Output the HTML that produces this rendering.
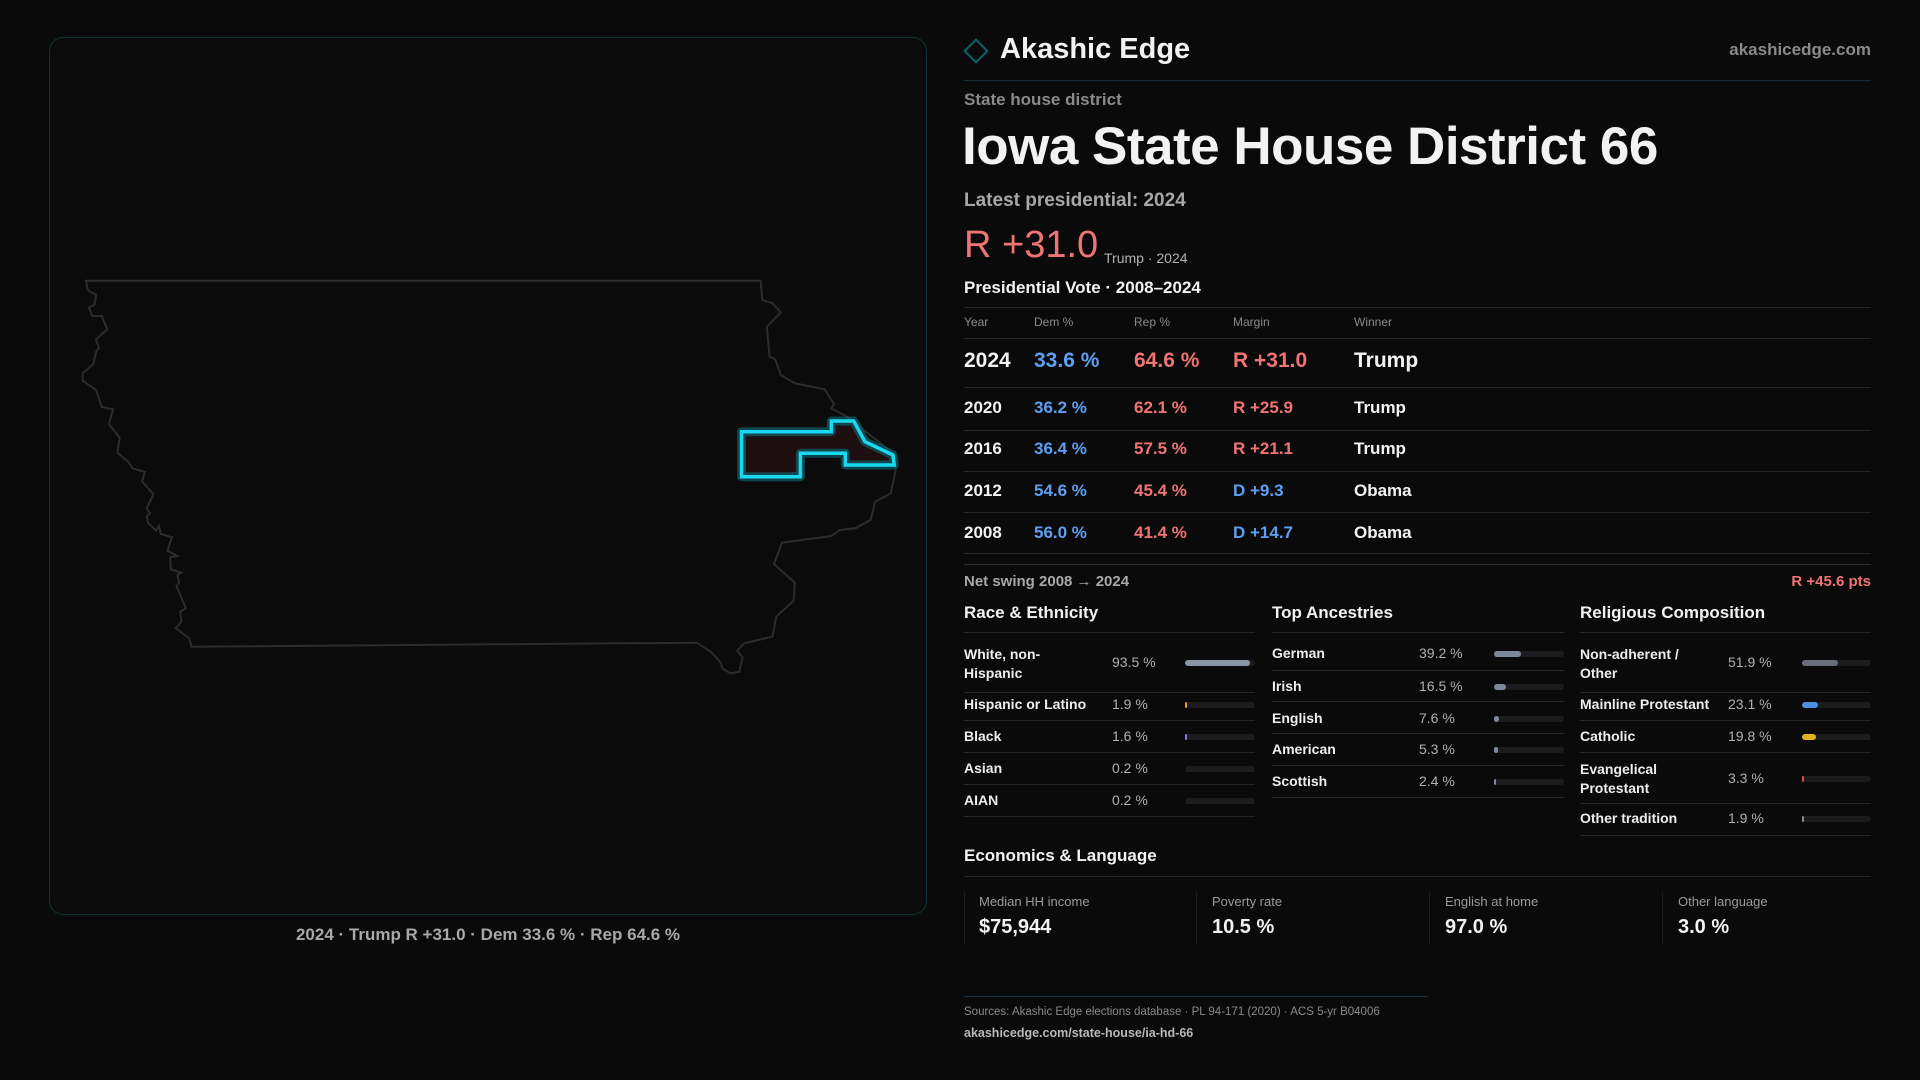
<!DOCTYPE html>
<html><head><meta charset="utf-8"><style>
*{margin:0;padding:0;box-sizing:border-box}
body{width:1920px;height:1080px;background:#0a0a0b;font-family:"Liberation Sans",sans-serif;color:#f2f2f2;position:relative;overflow:hidden}
.a{position:absolute;white-space:nowrap}
.g{color:#9a9a9a}
.b{color:#5e9ff2}.r{color:#f07474}
.ln{position:absolute;height:1px;background:#262628}
.bar{position:absolute;height:6px;border-radius:3px;background:#1c1c1f}
.bar i{position:absolute;left:0;top:0;height:6px;border-radius:3px}
.lab{font-size:14px;font-weight:bold;color:#eee}
.val{font-size:14px;color:#b0b0b0}
</style></head><body>
<div class="a" style="left:49px;top:37px;width:878px;height:878px;border:1px solid #123338;border-radius:14px;background:#0b0b0c"></div>
<svg class="a" style="left:0;top:0" width="960" height="1080">
<polygon fill="none" stroke="#2c2c2e" stroke-width="2" points="86,280.7 760.6,280.7 762.3,300 772.4,303.3 780.8,312.3 766.8,326.7 769.6,356.7 775.2,359.3 780.8,375 794.8,383.3 824.6,389.3 834.1,404 831.3,408.3 848.1,417.3 893,453.3 895.8,470 890.8,493.3 875.1,501.7 870.6,520 855.4,528.3 839.7,530 831.3,536 781.9,542.7 774,564 794.8,582.7 793.7,600.7 776.3,616.7 772.4,636.7 744.3,643.3 737,650.7 742.6,657.3 739.3,671.7 730.3,673.3 722.4,668.3 720.2,661.7 710.6,651.7 696.6,642.7 191.5,646.7 189.3,638.3 175.8,628.3 181.4,621.7 180.3,611.7 185.9,608.3 176.4,586 179.2,582.7 177.5,575 181.4,572.7 170.8,569.3 170.2,557.3 177.5,556 167.4,550.7 171.9,537.3 160.7,534 159,526 156.2,530.7 148.3,523.3 146.6,516.7 150,513.3 146.6,508.3 153.4,494.3 142.1,481.3 144.9,472 132.6,468.3 128.7,462.3 117.4,452.7 119.7,437.7 109,424.3 113,409.3 101.7,407 96.1,390 82.7,380.7 82.7,373.3 93.3,364 96.1,351.7 98.9,348.3 96.1,339.3 107.3,329.3 101.7,316 92.2,316 88.8,307.3 94.4,305 96.1,295 87.7,290"/>
<polygon fill="#1e0f10" stroke="#0e6a78" stroke-width="9" stroke-opacity="0.6" stroke-linejoin="round" points="741.5,431.7 831.3,431.7 831.3,421 853.7,421 865,441.7 893,455 894.2,465 845.3,465 845.3,453.3 800.4,453.3 800.4,476.7 741.5,476.7"/>
<polygon fill="none" stroke="#1ad8f0" stroke-width="3.5" points="741.5,431.7 831.3,431.7 831.3,421 853.7,421 865,441.7 893,455 894.2,465 845.3,465 845.3,453.3 800.4,453.3 800.4,476.7 741.5,476.7"/>
</svg>
<div class="a" style="left:0;width:976px;text-align:center;top:925px;font-size:17px;font-weight:bold;color:#a8a8a8">2024 · Trump R +31.0 · Dem 33.6 % · Rep 64.6 %</div>

<div class="a" style="left:967px;top:42px;width:18px;height:18px;border:2px solid #0f5f6a;transform:rotate(45deg)"></div>
<div class="a" style="left:1000px;top:33px;font-size:29px;font-weight:bold">Akashic Edge</div>
<div class="a g" style="right:49px;top:40px;font-size:17px;font-weight:bold;color:#8a8a8a">akashicedge.com</div>
<div class="ln" style="left:964px;width:907px;top:80px;background:#173036"></div>
<div class="a g" style="left:964px;top:90px;font-size:17px;font-weight:bold;color:#8a8a8a">State house district</div>
<div class="a" style="left:962px;top:116px;font-size:53px;font-weight:bold;letter-spacing:-0.5px">Iowa State House District 66</div>
<div class="a" style="left:964px;top:190px;font-size:19px;font-weight:bold;color:#a8a8a8">Latest presidential: 2024</div>
<div class="a r" style="left:964px;top:224px;font-size:38px">R +31.0</div>
<div class="a" style="left:1104px;top:250px;font-size:14px;color:#b0b0b0">Trump · 2024</div>
<div class="a" style="left:964px;top:278px;font-size:17px;font-weight:bold">Presidential Vote · 2008–2024</div>
<div class="ln" style="left:964px;width:907px;top:307px"></div>
<div class="a" style="left:964px;top:315px;font-size:12px;color:#8a8a8a">Year</div>
<div class="a" style="left:1034px;top:315px;font-size:12px;color:#8a8a8a">Dem %</div>
<div class="a" style="left:1134px;top:315px;font-size:12px;color:#8a8a8a">Rep %</div>
<div class="a" style="left:1233px;top:315px;font-size:12px;color:#8a8a8a">Margin</div>
<div class="a" style="left:1354px;top:315px;font-size:12px;color:#8a8a8a">Winner</div>
<div class="ln" style="left:964px;width:907px;top:338px"></div>
<div class="a" style="left:964px;top:349px;font-size:21px;font-weight:bold">2024</div>
<div class="a b" style="left:1034px;top:349px;font-size:21px;font-weight:bold">33.6 %</div>
<div class="a r" style="left:1134px;top:349px;font-size:21px;font-weight:bold">64.6 %</div>
<div class="a r" style="left:1233px;top:349px;font-size:21px;font-weight:bold">R +31.0</div>
<div class="a" style="left:1354px;top:349px;font-size:21px;font-weight:bold">Trump</div>
<div class="ln" style="left:964px;width:907px;top:387px"></div>
<div style="position:absolute;left:964px;top:398px;font-size:17px;font-weight:bold;line-height:20px">
<div class="a" style="left:0;top:0">2020</div><div class="a b" style="left:70px;top:0">36.2 %</div><div class="a r" style="left:170px;top:0">62.1 %</div><div class="a r" style="left:269px;top:0">R +25.9</div><div class="a" style="left:390px;top:0">Trump</div>
<div class="a" style="left:0;top:41px">2016</div><div class="a b" style="left:70px;top:41px">36.4 %</div><div class="a r" style="left:170px;top:41px">57.5 %</div><div class="a r" style="left:269px;top:41px">R +21.1</div><div class="a" style="left:390px;top:41px">Trump</div>
<div class="a" style="left:0;top:83px">2012</div><div class="a b" style="left:70px;top:83px">54.6 %</div><div class="a r" style="left:170px;top:83px">45.4 %</div><div class="a b" style="left:269px;top:83px">D +9.3</div><div class="a" style="left:390px;top:83px">Obama</div>
<div class="a" style="left:0;top:125px">2008</div><div class="a b" style="left:70px;top:125px">56.0 %</div><div class="a r" style="left:170px;top:125px">41.4 %</div><div class="a b" style="left:269px;top:125px">D +14.7</div><div class="a" style="left:390px;top:125px">Obama</div>
</div>
<div class="ln" style="left:964px;width:907px;top:430px"></div>
<div class="ln" style="left:964px;width:907px;top:471px"></div>
<div class="ln" style="left:964px;width:907px;top:512px"></div>
<div class="ln" style="left:964px;width:907px;top:553px"></div>
<div class="ln" style="left:964px;width:907px;top:564px;background:#303032"></div>
<div class="a" style="left:964px;top:573px;font-size:15px;font-weight:bold;color:#a8a8a8">Net swing 2008 → 2024</div>
<div class="a r" style="right:49px;top:573px;font-size:15px;font-weight:bold">R +45.6 pts</div>

<div class="a" style="left:964px;top:603px;font-size:17px;font-weight:bold">Race &amp; Ethnicity</div>
<div class="a" style="left:1272px;top:603px;font-size:17px;font-weight:bold">Top Ancestries</div>
<div class="a" style="left:1580px;top:603px;font-size:17px;font-weight:bold">Religious Composition</div>
<div class="ln" style="left:964px;width:291px;top:632px"></div>
<div class="ln" style="left:1272px;width:292px;top:632px"></div>
<div class="ln" style="left:1580px;width:291px;top:632px"></div>

<!-- race -->
<div class="a lab" style="left:964px;top:645px;line-height:19px">White, non-<br>Hispanic</div><div class="a val" style="left:1112px;top:654px">93.5 %</div><div class="bar" style="left:1185px;top:660px;width:70px"><i style="width:65px;background:#8a94a6"></i></div>
<div class="ln" style="left:964px;width:291px;top:692px"></div>
<div class="a lab" style="left:964px;top:696px">Hispanic or Latino</div><div class="a val" style="left:1112px;top:696px">1.9 %</div><div class="bar" style="left:1185px;top:702px;width:70px"><i style="width:2px;background:#e09a30"></i></div>
<div class="ln" style="left:964px;width:291px;top:720px"></div>
<div class="a lab" style="left:964px;top:728px">Black</div><div class="a val" style="left:1112px;top:728px">1.6 %</div><div class="bar" style="left:1185px;top:734px;width:70px"><i style="width:2px;background:#8a7ae0"></i></div>
<div class="ln" style="left:964px;width:291px;top:752px"></div>
<div class="a lab" style="left:964px;top:760px">Asian</div><div class="a val" style="left:1112px;top:760px">0.2 %</div><div class="bar" style="left:1185px;top:766px;width:70px"></div>
<div class="ln" style="left:964px;width:291px;top:784px"></div>
<div class="a lab" style="left:964px;top:792px">AIAN</div><div class="a val" style="left:1112px;top:792px">0.2 %</div><div class="bar" style="left:1185px;top:798px;width:70px"></div>
<div class="ln" style="left:964px;width:291px;top:816px"></div>

<!-- ancestry -->
<div class="a lab" style="left:1272px;top:645px">German</div><div class="a val" style="left:1419px;top:645px">39.2 %</div><div class="bar" style="left:1494px;top:651px;width:70px"><i style="width:27px;background:#7e889c"></i></div>
<div class="ln" style="left:1272px;width:292px;top:670px"></div>
<div class="a lab" style="left:1272px;top:678px">Irish</div><div class="a val" style="left:1419px;top:678px">16.5 %</div><div class="bar" style="left:1494px;top:684px;width:70px"><i style="width:12px;background:#7e889c"></i></div>
<div class="ln" style="left:1272px;width:292px;top:701px"></div>
<div class="a lab" style="left:1272px;top:710px">English</div><div class="a val" style="left:1419px;top:710px">7.6 %</div><div class="bar" style="left:1494px;top:716px;width:70px"><i style="width:5px;background:#7e889c"></i></div>
<div class="ln" style="left:1272px;width:292px;top:733px"></div>
<div class="a lab" style="left:1272px;top:741px">American</div><div class="a val" style="left:1419px;top:741px">5.3 %</div><div class="bar" style="left:1494px;top:747px;width:70px"><i style="width:4px;background:#7e889c"></i></div>
<div class="ln" style="left:1272px;width:292px;top:765px"></div>
<div class="a lab" style="left:1272px;top:773px">Scottish</div><div class="a val" style="left:1419px;top:773px">2.4 %</div><div class="bar" style="left:1494px;top:779px;width:70px"><i style="width:2px;background:#7e889c"></i></div>
<div class="ln" style="left:1272px;width:292px;top:797px"></div>

<!-- religion -->
<div class="a lab" style="left:1580px;top:645px;line-height:19px">Non-adherent /<br>Other</div><div class="a val" style="left:1728px;top:654px">51.9 %</div><div class="bar" style="left:1802px;top:660px;width:69px"><i style="width:36px;background:#6a6e78"></i></div>
<div class="ln" style="left:1580px;width:291px;top:692px"></div>
<div class="a lab" style="left:1580px;top:696px">Mainline Protestant</div><div class="a val" style="left:1728px;top:696px">23.1 %</div><div class="bar" style="left:1802px;top:702px;width:69px"><i style="width:16px;background:#4a8fe0"></i></div>
<div class="ln" style="left:1580px;width:291px;top:720px"></div>
<div class="a lab" style="left:1580px;top:728px">Catholic</div><div class="a val" style="left:1728px;top:728px">19.8 %</div><div class="bar" style="left:1802px;top:734px;width:69px"><i style="width:14px;background:#e0b020"></i></div>
<div class="ln" style="left:1580px;width:291px;top:752px"></div>
<div class="a lab" style="left:1580px;top:760px;line-height:19px">Evangelical<br>Protestant</div><div class="a val" style="left:1728px;top:770px">3.3 %</div><div class="bar" style="left:1802px;top:776px;width:69px"><i style="width:2px;background:#e04848"></i></div>
<div class="ln" style="left:1580px;width:291px;top:803px"></div>
<div class="a lab" style="left:1580px;top:810px">Other tradition</div><div class="a val" style="left:1728px;top:810px">1.9 %</div><div class="bar" style="left:1802px;top:816px;width:69px"><i style="width:2px;background:#8a8a8a"></i></div>
<div class="ln" style="left:1580px;width:291px;top:835px"></div>

<div class="a" style="left:964px;top:846px;font-size:17px;font-weight:bold">Economics &amp; Language</div>
<div class="ln" style="left:964px;width:907px;top:876px"></div>
<div class="a" style="left:964px;top:892px;width:1px;height:52px;background:#1e1e20"></div>
<div class="a" style="left:1196px;top:892px;width:1px;height:52px;background:#1e1e20"></div>
<div class="a" style="left:1429px;top:892px;width:1px;height:52px;background:#1e1e20"></div>
<div class="a" style="left:1662px;top:892px;width:1px;height:52px;background:#1e1e20"></div>
<div class="a" style="left:979px;top:894px;font-size:13px;color:#9a9a9a">Median HH income</div>
<div class="a" style="left:979px;top:916px;font-size:20px;font-weight:bold">$75,944</div>
<div class="a" style="left:1212px;top:894px;font-size:13px;color:#9a9a9a">Poverty rate</div>
<div class="a" style="left:1212px;top:916px;font-size:20px;font-weight:bold">10.5 %</div>
<div class="a" style="left:1445px;top:894px;font-size:13px;color:#9a9a9a">English at home</div>
<div class="a" style="left:1445px;top:916px;font-size:20px;font-weight:bold">97.0 %</div>
<div class="a" style="left:1678px;top:894px;font-size:13px;color:#9a9a9a">Other language</div>
<div class="a" style="left:1678px;top:916px;font-size:20px;font-weight:bold">3.0 %</div>

<div class="ln" style="left:964px;width:464px;top:996px;background:#123a40"></div>
<div class="a" style="left:964px;top:1006px;font-size:11.5px;color:#8a8a8a">Sources: Akashic Edge elections database · PL 94-171 (2020) · ACS 5-yr B04006</div>
<div class="a" style="left:964px;top:1026px;font-size:12.5px;font-weight:bold;color:#b8b8b8">akashicedge.com/state-house/ia-hd-66</div>
</body></html>
